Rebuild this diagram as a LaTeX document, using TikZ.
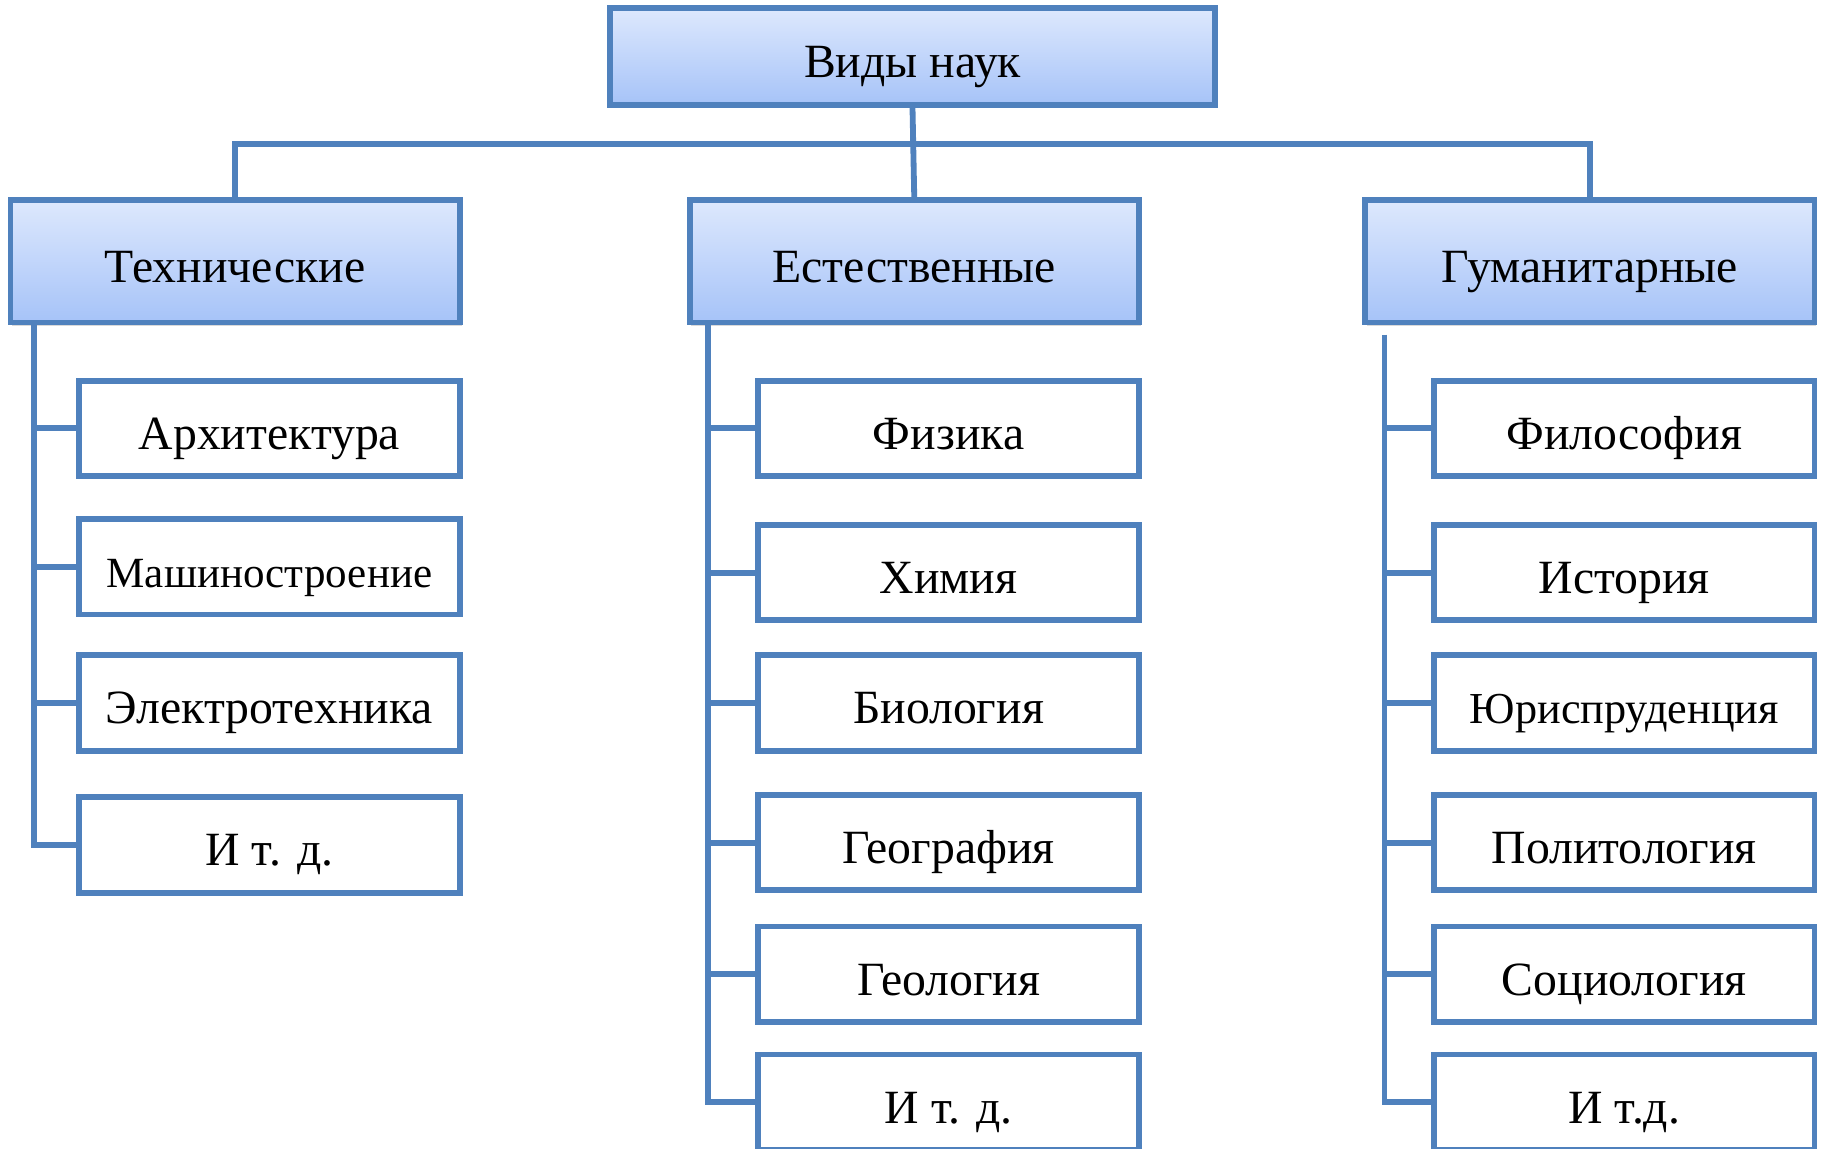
\documentclass[tikz,border=0pt]{standalone}
\usepackage{fontspec}
\setmainfont{Liberation Serif}
\usetikzlibrary{shadows}
\definecolor{boxline}{HTML}{4F81BD}
\definecolor{gradtop}{HTML}{DDE8FD}
\definecolor{gradbot}{HTML}{A6C3F8}

\begin{document}
\begin{tikzpicture}[x=0.5pt,y=-0.5pt]
\tikzstyle{every node}+=[inner sep=0pt,text height=18pt,text depth=0pt,font=\fontsize{20.5}{24}\selectfont]
\tikzstyle{head}=[draw=boxline,line width=2.5pt,top color=gradtop,bottom color=gradbot,minimum width=193pt,minimum height=52.5pt,drop shadow={opacity=0.3,shadow xshift=0.8pt,shadow yshift=-1.5pt}]
\tikzstyle{item}=[draw=boxline,line width=2.5pt,fill=white,minimum width=163.5pt,minimum height=41pt]
\tikzstyle{link}=[draw=boxline,line width=2.5pt]
\useasboundingbox (0,0) rectangle (1568,987);
\node [head,minimum width=260pt,minimum height=41.5pt] (vidy) at (784,48.5) {Виды наук};
\node [head] (tech) at (202,224.5) {Технические};
\node [head] (nat) at (785.5,224.5) {Естественные};
\node [head] (hum) at (1366,224.5) {Гуманитарные};
\node [item] (t1) at (231.5,368) {Архитектура};
\node [item,font=\fontsize{18.5}{22}\selectfont] (t2) at (231.5,487) {Машиностроение};
\node [item] (t3) at (231.5,604) {Электротехника};
\node [item] (t4) at (231.5,726) {И т. д.};
\node [item] (n1) at (815,368) {Физика};
\node [item] (n2) at (815,492) {Химия};
\node [item] (n3) at (815,604) {Биология};
\node [item] (n4) at (815,724) {География};
\node [item] (n5) at (815,837) {Геология};
\node [item] (n6) at (815,947) {И т. д.};
\node [item] (h1) at (1395.5,368) {Философия};
\node [item] (h2) at (1395.5,492) {История};
\node [item,font=\fontsize{19}{23}\selectfont] (h3) at (1395.5,604) {Юриспруденция};
\node [item] (h4) at (1395.5,724) {Политология};
\node [item] (h5) at (1395.5,837) {Социология};
\node [item] (h6) at (1395.5,947) {И т.д.};
\coordinate (busL) at (202,124);
\coordinate (busR) at (1366,124);
\draw [link] (vidy.south) -- (nat.north);
\draw [link] (tech.north) -- (busL) -- (busR) -- (hum.north);
\coordinate (tsp) at ([xshift=11.5pt]tech.south west);
\coordinate (nsp) at ([xshift=9pt]nat.south west);
\coordinate (hsp) at ([xshift=9.5pt,yshift=-4pt]hum.south west);
\draw [link] (tsp) |- (t4.west);
\draw [link] (t1.west) -- (t1.west -| tsp);
\draw [link] (t2.west) -- (t2.west -| tsp);
\draw [link] (t3.west) -- (t3.west -| tsp);
\draw [link] (nsp) |- (n6.west);
\draw [link] (n1.west) -- (n1.west -| nsp);
\draw [link] (n2.west) -- (n2.west -| nsp);
\draw [link] (n3.west) -- (n3.west -| nsp);
\draw [link] (n4.west) -- (n4.west -| nsp);
\draw [link] (n5.west) -- (n5.west -| nsp);
\draw [link] (hsp) |- (h6.west);
\draw [link] (h1.west) -- (h1.west -| hsp);
\draw [link] (h2.west) -- (h2.west -| hsp);
\draw [link] (h3.west) -- (h3.west -| hsp);
\draw [link] (h4.west) -- (h4.west -| hsp);
\draw [link] (h5.west) -- (h5.west -| hsp);
\end{tikzpicture}
\end{document}
